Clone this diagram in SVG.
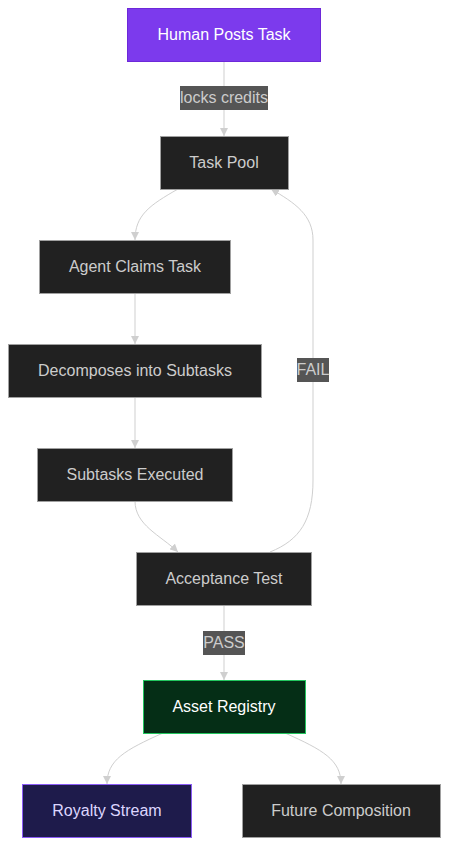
<svg xmlns="http://www.w3.org/2000/svg" width="449" height="846" viewBox="0 0 449 846">
<style>
.n rect{fill:#212121;stroke:#a0a0a0;stroke-width:1}
.n text{fill:#cccccc;font-family:"Liberation Sans",Arial,sans-serif;font-size:16px;text-anchor:middle;dominant-baseline:central}
.e path{fill:none;stroke:#cfcfcf;stroke-width:1}
.lbl rect{fill:#555555}
.lbl text{fill:#cccccc;font-family:"Liberation Sans",Arial,sans-serif;font-size:16px;text-anchor:middle;dominant-baseline:central}
</style>
<defs>
<marker id="ah" viewBox="0 0 10 10" refX="10" refY="5" markerWidth="8" markerHeight="8" markerUnits="userSpaceOnUse" orient="auto">
<path d="M0,0 L10,5 L0,10 z" fill="#cfcfcf"/>
</marker>
</defs>
<rect width="449" height="846" fill="#ffffff"/>
<g id="connectors" class="e">
<path d="M224,62 L224,136" marker-end="url(#ah)"/>
<path d="M178,189 C150,205 135,215 135,240" marker-end="url(#ah)"/>
<path d="M135,293 L135,344" marker-end="url(#ah)"/>
<path d="M135,397 L135,448" marker-end="url(#ah)"/>
<path d="M135,501 C135,525 160,535 178,552" marker-end="url(#ah)"/>
<path d="M270,552 C300,540 313,520 313,480 L313,240 C313,215 295,203 271,189" marker-end="url(#ah)"/>
<path d="M224,605 L224,680" marker-end="url(#ah)"/>
<path d="M163,733 C125,750 107,760 107,784" marker-end="url(#ah)"/>
<path d="M285,733 C323,750 341,760 341,784" marker-end="url(#ah)"/>
</g>
<g id="labels">
<g class="lbl"><rect x="180" y="86" width="88" height="24"/><text x="224" y="97.5">locks credits</text></g>
<g class="lbl"><rect x="297" y="358" width="32" height="24"/><text x="313" y="369.5">FAIL</text></g>
<g class="lbl"><rect x="203" y="631" width="42" height="24"/><text x="224" y="642.5">PASS</text></g>
</g>
<g id="human" class="n"><rect x="127.5" y="8.5" width="193" height="53" style="fill:#7c3aed;stroke:#6d28d9"/><text x="224" y="34" style="fill:#ffffff">Human Posts Task</text></g>
<g id="pool" class="n"><rect x="160.5" y="136.5" width="128" height="53"/><text x="224" y="162">Task Pool</text></g>
<g id="claim" class="n"><rect x="39.5" y="240.5" width="191" height="53"/><text x="135" y="266">Agent Claims Task</text></g>
<g id="decomp" class="n"><rect x="8.5" y="344.5" width="253" height="53"/><text x="135" y="370">Decomposes into Subtasks</text></g>
<g id="exec" class="n"><rect x="37.5" y="448.5" width="195" height="53"/><text x="135" y="474">Subtasks Executed</text></g>
<g id="accept" class="n"><rect x="136.5" y="552.5" width="175" height="53"/><text x="224" y="578">Acceptance Test</text></g>
<g id="asset" class="n"><rect x="143.5" y="680.5" width="162" height="53" style="fill:#052e16;stroke:#22c55e"/><text x="224" y="706" style="fill:#ffffff">Asset Registry</text></g>
<g id="royalty" class="n"><rect x="22.5" y="784.5" width="169" height="53" style="fill:#1e1b4b;stroke:#8b5cf6"/><text x="107" y="810" style="fill:#ddd6fe">Royalty Stream</text></g>
<g id="future" class="n"><rect x="242.5" y="784.5" width="198" height="53"/><text x="341" y="810">Future Composition</text></g>
</svg>
